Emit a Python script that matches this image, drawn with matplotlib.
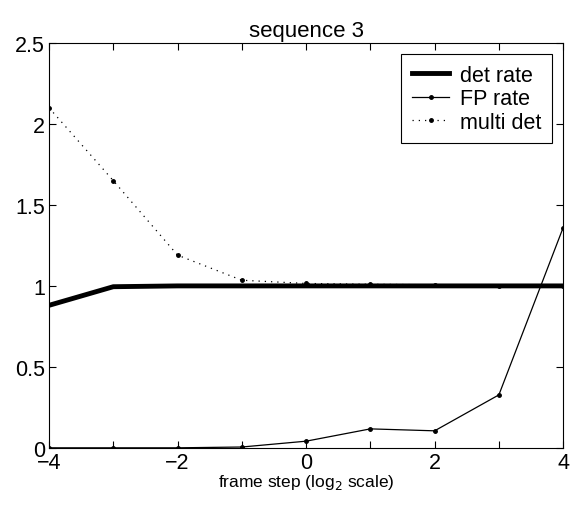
import numpy as np
import matplotlib.pyplot as plt

plt.rcParams['font.family'] = ['Liberation Sans', 'DejaVu Sans']

# data
steps = [-4, -3, -2, -1, 0, 1, 2, 3, 4]
det_rate = [0.88, 0.995, 1.0, 1.0, 1.0, 1.0, 1.0, 1.0, 1.0]
fp_rate = [0.0, 0.0, 0.0, 0.005, 0.041, 0.117, 0.105, 0.327, 1.36]
multi_det = [2.1, 1.65, 1.19, 1.035, 1.015, 1.01, 1.007, 1.0, 1.0]

fig = plt.figure(figsize=(5.7, 5.06), dpi=100)
ax = fig.add_axes([0.086, 0.113, 0.902, 0.8])

ax.plot(steps, det_rate, color='k', linewidth=3.5, label='det rate')
ax.plot(steps, fp_rate, color='k', linewidth=0.9, marker='.', markersize=5,
        label='FP rate')
ax.plot(steps, multi_det, color='k', linewidth=0.9, linestyle=(0, (1, 4)),
        marker='.', markersize=5, label='multi det')

ax.set_xlim(-4, 4)
ax.set_ylim(0, 2.5)
ax.set_xticks([-4, -2, 0, 2, 4])
ax.set_xticks([-3, -1, 1, 3], minor=True)
ax.set_yticks([0, 0.5, 1, 1.5, 2, 2.5])
ax.set_xticklabels(['\u22124', '\u22122', '0', '2', '4'])
ax.set_yticklabels(['0', '0.5', '1', '1.5', '2', '2.5'])
ax.tick_params(direction='in', top=True, right=True, labelsize=15.5,
               length=5, width=0.8, pad=3)
ax.tick_params(which='minor', direction='in', top=True, right=True, length=5, width=0.8)
for s in ax.spines.values():
    s.set_linewidth(0.8)

ax.set_title('sequence 3', fontsize=16, pad=5)
ax.set_xlabel('frame step (log$_2$ scale)', fontsize=12.5, labelpad=-1)

leg = ax.legend(loc='upper right', fontsize=15.5, frameon=True, fancybox=False,
                edgecolor='k', framealpha=1, borderaxespad=0.5,
                handlelength=1.75, handletextpad=0.5, labelspacing=0.12,
                borderpad=0.5)
leg.get_frame().set_linewidth(0.8)

plt.savefig('out.png', dpi=100)
